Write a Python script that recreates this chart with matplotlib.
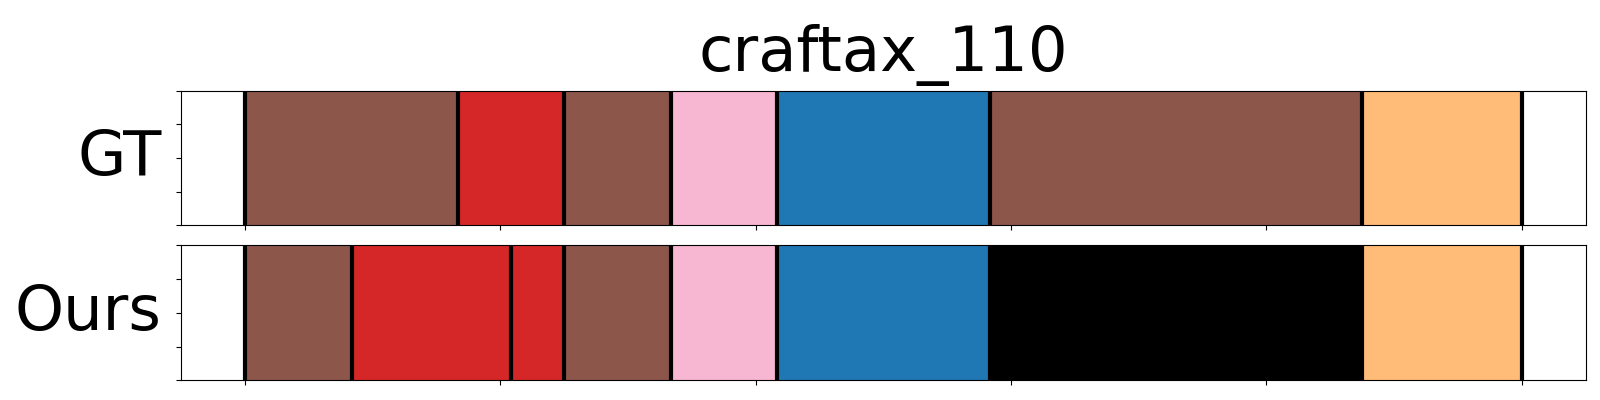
import matplotlib
matplotlib.use("Agg")
import matplotlib.pyplot as plt

TITLE = "craftax_110"
ROWS = ["GT", "Ours"]

# segment boundaries (frame index) and action labels per row
GT_EDGES = [0, 83.3, 125, 166.7, 208.3, 291.7, 437.5, 500]
GT_LABELS = ["brown", "red", "brown", "pink", "blue", "brown", "orange"]

OURS_EDGES = [0, 41.7, 104.2, 125, 166.7, 208.3, 291.7, 437.5, 500]
OURS_LABELS = ["brown", "red", "red", "brown", "pink", "blue", "black", "orange"]

COLORS = {
    "brown": "#8c564b",
    "red": "#d62728",
    "pink": "#f7b6d2",
    "blue": "#1f77b4",
    "orange": "#ffbb78",
    "black": "#000000",
}

XTICKS = [0, 100, 200, 300, 400, 500]
YTICKS = [0, 0.25, 0.5, 0.75, 1.0]

fig = plt.figure(figsize=(16, 4), dpi=100)
ax_gt = fig.add_axes([0.1133, 0.4368, 0.8777, 0.3365])
ax_ours = fig.add_axes([0.1133, 0.0493, 0.8777, 0.3375])

for ax, name, edges, labels in [
    (ax_gt, ROWS[0], GT_EDGES, GT_LABELS),
    (ax_ours, ROWS[1], OURS_EDGES, OURS_LABELS),
]:
    for start, end, lab in zip(edges[:-1], edges[1:], labels):
        ax.axvspan(start, end, ymin=0, ymax=1, color=COLORS[lab], lw=0)
    for e in edges:
        ax.axvline(e, color="black", lw=3, zorder=3)
    ax.set_xlim(-25, 525)
    ax.set_ylim(0, 1)
    ax.set_xticks(XTICKS)
    ax.set_xticklabels([])
    ax.set_yticks(YTICKS)
    ax.set_yticklabels([])
    ax.set_ylabel(name, fontsize=45, rotation=0, ha="right", va="center",
                  labelpad=7)

ax_gt.set_title(TITLE, fontsize=45, pad=14)

fig.savefig("out.png", dpi=100)
